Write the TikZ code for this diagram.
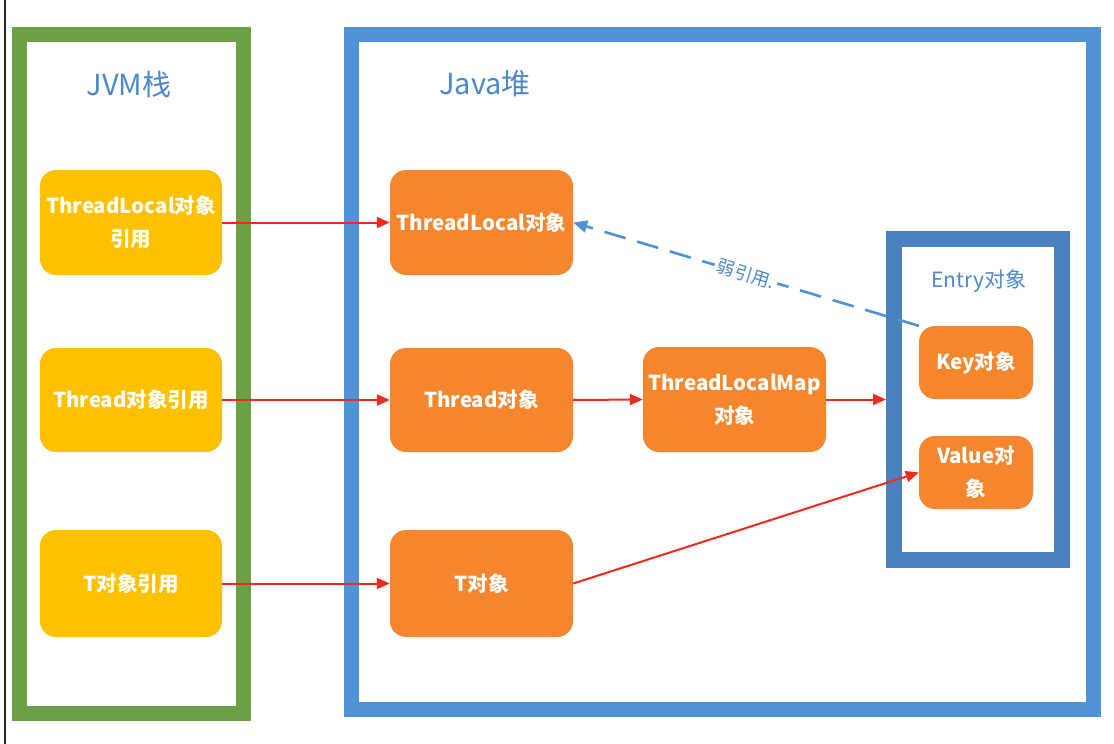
\documentclass[tikz,border=0pt]{standalone}
\usepackage{fontspec}
\setmainfont{Noto Sans CJK SC}
\usetikzlibrary{arrows.meta}
\definecolor{ygold}{HTML}{FFC000}
\definecolor{orng}{HTML}{F5862E}
\definecolor{grn}{HTML}{6CA046}
\definecolor{heapblue}{HTML}{4F92D6}
\definecolor{entryblue}{HTML}{4A80BE}
\definecolor{lblblue}{HTML}{4C88CA}
\definecolor{arrred}{HTML}{F02A1E}
\tikzset{
  refbox/.style={fill=ygold, rounded corners=16pt, text=white, font=\bfseries\fontsize{20.5}{33}\selectfont, align=center, inner sep=0pt},
  objbox/.style={fill=orng, rounded corners=16pt, text=white, font=\bfseries\fontsize{20.5}{33}\selectfont, align=center, inner sep=0pt},
  frame/.style={draw, line width=15pt, inner sep=0pt},
  title/.style={text=lblblue, font=\fontsize{29}{32}\selectfont},
  redarr/.style={draw=arrred, line width=2pt, -{Triangle[length=13pt,width=11pt]}},
}
\begin{document}
\begin{tikzpicture}[x=1pt,y=-1pt]
\useasboundingbox (0,0) rectangle (1114,744);
\fill[white] (0,0) rectangle (1114,744);
\coordinate (lt) at (5,0);
\coordinate (lb) at (5,744);
\draw[line width=1.5pt, black!85] (lt) -- (lb);

% frames
\node[frame, draw=grn, minimum width=224pt, minimum height=679pt] (stack) at (131.5,374) {};
\node[frame, draw=heapblue, minimum width=742pt, minimum height=675pt] (heap) at (722.5,372) {};
\node[draw=entryblue, line width=16pt, inner sep=0pt, minimum width=168pt, minimum height=321pt] (entry) at (978,399.5) {};

% titles
\node[title] (jvm) at (129,84) {JVM栈};
\node[title] (java) at (485,84) {Java堆};
\node[text=lblblue, font=\fontsize{21}{24}\selectfont] (entrylbl) at (979,281) {Entry对象};

% stack boxes
\node[refbox, minimum width=182pt, minimum height=105pt] (ytl) at (131,222.5) {ThreadLocal对象\\引用};
\node[refbox, minimum width=182pt, minimum height=104pt] (yth) at (131,400) {Thread对象引用};
\node[refbox, minimum width=182pt, minimum height=107pt] (yt) at (131,583.5) {T对象引用};

% heap boxes
\node[objbox, minimum width=183pt, minimum height=105pt] (otl) at (481.5,222.5) {ThreadLocal对象};
\node[objbox, minimum width=183pt, minimum height=104pt] (oth) at (481.5,400) {Thread对象};
\node[objbox, minimum width=183pt, minimum height=107pt] (ot) at (481.5,583.5) {T对象};
\node[objbox, minimum width=183pt, minimum height=105pt] (map) at (734.5,399.5) {ThreadLocalMap\\对象};
\node[objbox, minimum width=114pt, minimum height=73pt] (key) at (976,362.5) {Key对象};
\node[objbox, minimum width=114pt, minimum height=73pt] (val) at (976,472.5) {Value对\\象};

% arrows
\draw[redarr] (ytl.east) -- (otl.west);
\draw[redarr] (yth.east) -- (oth.west);
\draw[redarr] (yt.east) -- (ot.west);
\draw[redarr] (oth.east) -- (map.west);
\draw[redarr] (map.east) -- (entry.west);
\draw[redarr] (ot.east) -- (val.west);

% weak reference
\draw[draw=heapblue, line width=2.6pt, dash pattern=on 22pt off 12pt, -{Triangle[length=14pt,width=12pt]}]
  (key.north west) -- node[pos=0.5, fill=white, text=lblblue, rotate=-17, font=\fontsize{18}{20}\selectfont, inner sep=3pt] (weak) {弱引用.} (otl.east);
\end{tikzpicture}
\end{document}
